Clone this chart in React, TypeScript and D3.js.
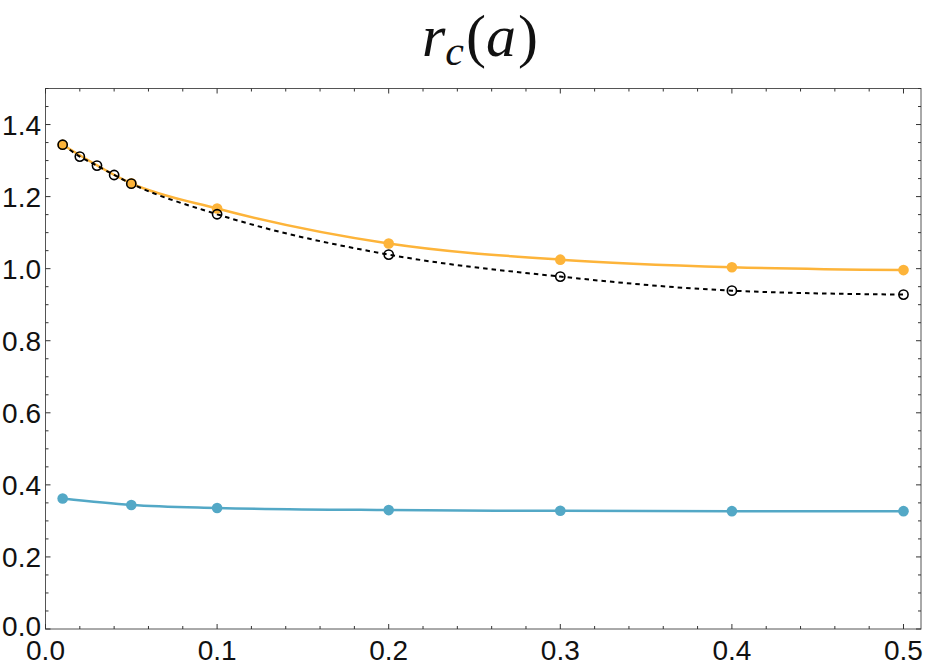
import React from "react";
import * as d3 from "d3";

const orangeX = [0.01, 0.05, 0.1, 0.2, 0.3, 0.4, 0.5];
const orangeY = [1.344, 1.237, 1.167, 1.070, 1.025, 1.004, 0.996];
const blackX = [0.01, 0.02, 0.03, 0.04, 0.05, 0.1, 0.2, 0.3, 0.4, 0.5];
const blackY = [1.344, 1.311, 1.286, 1.260, 1.236, 1.151, 1.039, 0.978, 0.939, 0.928];
const blueX = [0.01, 0.05, 0.1, 0.2, 0.3, 0.4, 0.5];
const blueY = [0.362, 0.344, 0.336, 0.330, 0.328, 0.327, 0.327];
const xTicks = [0, 0.1, 0.2, 0.3, 0.4, 0.5];
const yTicks = [0, 0.2, 0.4, 0.6, 0.8, 1.0, 1.2, 1.4];

const W = 925, H = 668;
const L = 45.5, R = 921, T = 88.5, B = 629;
const ORANGE = "#FDB43A";
const BLUE = "#53A8C6";

export default function App() {
  const x = d3.scaleLinear().domain([0, 0.5102]).range([L, R]);
  const y = d3.scaleLinear().domain([0, 1.5]).range([B, T]);
  const line = d3.line<[number, number]>().x(d => x(d[0])).y(d => y(d[1])).curve(d3.curveMonotoneX);
  const mk = (xs: number[], ys: number[]) => xs.map((v, i) => [v, ys[i]] as [number, number]);
  const oPts = mk(orangeX, orangeY), bPts = mk(blackX, blackY), uPts = mk(blueX, blueY);
  const xMinor = d3.range(0, 0.52, 0.02).filter(v => v <= 0.5102);
  const yMinor = d3.range(0, 1.5001, 0.05);
  const fmt = d3.format(".1f");
  return (
    <svg width={W} height={H} style={{ position: "absolute", left: 0, top: 0 }}>
      <defs>
        <clipPath id="clip"><rect x={L} y={T} width={R - L} height={B - T} /></clipPath>
      </defs>
      <rect x={0} y={0} width={W} height={H} fill="white" />
      <text x={480} y={56} textAnchor="middle" fontFamily="'Liberation Serif', serif" fontSize={60} fill="#111">
        <tspan fontStyle="italic">r</tspan>
        <tspan fontStyle="italic" fontSize={42} dy={9}>c</tspan>
        <tspan dy={-9} dx={2}>(</tspan>
        <tspan fontStyle="italic">a</tspan>
        <tspan dx={2}>)</tspan>
      </text>
      <g clipPath="url(#clip)">
        <path d={line(uPts) || ""} fill="none" stroke={BLUE} strokeWidth={2.5} />
        <path d={line(oPts) || ""} fill="none" stroke={ORANGE} strokeWidth={2.5} />
        <path d={line(bPts) || ""} fill="none" stroke="black" strokeWidth={2} strokeDasharray="4.5,4" />
        {uPts.map((p, i) => <circle key={"u" + i} cx={x(p[0])} cy={y(p[1])} r={5.3} fill={BLUE} />)}
        {oPts.map((p, i) => <circle key={"o" + i} cx={x(p[0])} cy={y(p[1])} r={5.3} fill={ORANGE} />)}
        {bPts.map((p, i) => <circle key={"b" + i} cx={x(p[0])} cy={y(p[1])} r={4.6} fill="none" stroke="black" strokeWidth={1.6} />)}
      </g>
      <rect x={L} y={T} width={R - L} height={B - T} fill="none" stroke="#555" strokeWidth={1} />
      {xMinor.map((v, i) => {
        const major = Math.abs(v * 10 - Math.round(v * 10)) < 1e-6;
        const len = major ? 5 : 3;
        return (
          <g key={"xm" + i} stroke="#333" strokeWidth={1}>
            <line x1={x(v)} x2={x(v)} y1={B} y2={B - len} />
            <line x1={x(v)} x2={x(v)} y1={T} y2={T + len} />
          </g>
        );
      })}
      {yMinor.map((v, i) => {
        const major = Math.abs(v * 5 - Math.round(v * 5)) < 1e-6;
        const len = major ? 5 : 3;
        return (
          <g key={"ym" + i} stroke="#333" strokeWidth={1}>
            <line x1={L} x2={L + len} y1={y(v)} y2={y(v)} />
            <line x1={R} x2={R - len} y1={y(v)} y2={y(v)} />
          </g>
        );
      })}
      {xTicks.map((v, i) => (
        <text key={"xt" + i} x={x(v)} y={660} textAnchor="middle" fontFamily="'Liberation Sans', Arial, sans-serif" fontSize={28} fill="#111">{fmt(v)}</text>
      ))}
      {yTicks.map((v, i) => (
        <text key={"yt" + i} x={41} y={y(v) - (v === 0 ? 3 : 0)} dy="0.36em" textAnchor="end" fontFamily="'Liberation Sans', Arial, sans-serif" fontSize={28} fill="#111">{fmt(v)}</text>
      ))}
    </svg>
  );
}
